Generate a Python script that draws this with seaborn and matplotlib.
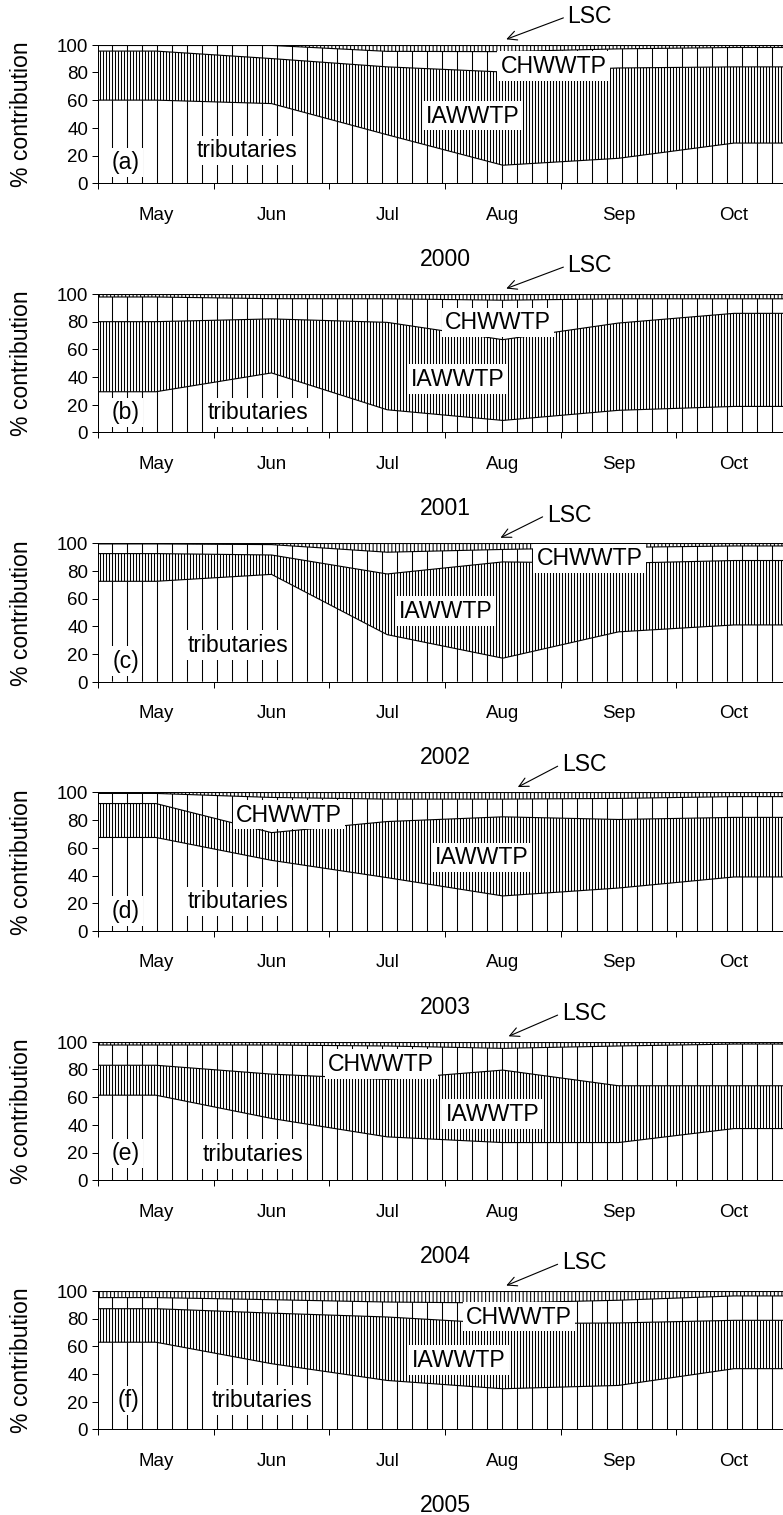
import numpy as np
import pandas as pd
import matplotlib
matplotlib.use("Agg")
import matplotlib.pyplot as plt
import seaborn as sns

# ---- data -------------------------------------------------------------
months = ["May", "Jun", "Jul", "Aug", "Sep", "Oct"]
years = ["2000", "2001", "2002", "2003", "2004", "2005"]
panel_tags = ["(a)", "(b)", "(c)", "(d)", "(e)", "(f)"]
sources = ["tributaries", "IAWWTP", "CHWWTP", "LSC"]

# monthly % contribution of each source, one row per year
tributaries = [
    [60.0, 57.5, 35.0, 13.0, 18.0, 29.0],
    [29.4, 43.0, 16.4, 8.7, 16.0, 18.8],
    [72.5, 77.5, 34.0, 17.0, 36.0, 41.0],
    [67.5, 51.0, 38.5, 25.3, 31.0, 39.0],
    [61.4, 44.6, 31.3, 27.2, 27.2, 37.3],
    [63.0, 47.5, 35.4, 29.4, 31.8, 43.9],
]
iawwtp = [
    [35.4, 32.5, 49.0, 67.3, 65.2, 55.0],
    [50.6, 39.0, 63.1, 58.3, 63.0, 67.2],
    [20.0, 14.0, 43.8, 69.5, 49.5, 46.5],
    [24.5, 20.0, 40.5, 57.1, 49.5, 43.0],
    [21.6, 32.0, 41.5, 52.3, 41.0, 30.9],
    [24.2, 36.5, 45.8, 47.0, 45.1, 34.9],
]
chwwtp = [
    [4.1, 9.5, 11.2, 14.7, 13.8, 14.0],
    [17.8, 14.6, 17.0, 28.5, 17.5, 10.5],
    [7.0, 7.5, 15.7, 9.0, 11.5, 10.5],
    [7.3, 25.4, 16.2, 12.8, 15.2, 15.0],
    [14.6, 21.0, 24.1, 15.7, 28.7, 30.1],
    [8.0, 9.7, 10.8, 14.9, 16.4, 17.6],
]
lsc = [
    [0.5, 0.5, 4.8, 5.0, 3.0, 2.0],
    [2.2, 3.4, 3.5, 4.5, 3.5, 3.5],
    [0.5, 1.0, 6.5, 4.5, 3.0, 2.0],
    [0.7, 3.6, 4.8, 4.8, 4.3, 3.0],
    [2.4, 2.4, 3.1, 4.8, 3.1, 1.7],
    [4.8, 6.3, 8.0, 8.7, 6.7, 3.6],
]

# ---- label placement (x in months from 1 May, y in %) --------------------
tag_pos = [(0.24, 15), (0.24, 14.6), (0.24, 15), (0.24, 14.5), (0.24, 19.3), (0.26, 21)]
trib_pos = [(1.29, 23.5), (1.38, 14.6), (1.21, 26.6), (1.21, 21.2), (1.34, 18.8), (1.42, 21.4)]
ia_pos = [(3.24, 48.7), (3.11, 38.6), (3.01, 51), (3.32, 53), (3.41, 47.7), (3.12, 50.3)]
ch_pos = [(3.94, 84.7), (3.46, 79.4), (4.25, 89), (1.65, 83.9), (2.45, 83.9), (3.64, 81.4)]
lsc_text_x = [4.06, 4.06, 3.88, 4.01, 4.01, 4.01]
lsc_tip_x = [3.53, 3.53, 3.48, 3.63, 3.55, 3.53]

DPI = 90
sns.set_style("ticks")
plt.rcParams["font.family"] = ["Liberation Sans", "DejaVu Sans"]
plt.rcParams["hatch.linewidth"] = 0.85
plt.rcParams["hatch.color"] = "black"
plt.rcParams["axes.linewidth"] = 0.8
for key in ["text.color", "axes.labelcolor", "xtick.color", "ytick.color",
            "axes.edgecolor"]:
    plt.rcParams[key] = "black"

W, H = 783, 1515
fig = plt.figure(figsize=(783.3 / DPI, 1515.3 / DPI), dpi=DPI)

hatches = ["|", "|||||", "|", "||||"]
month_w = 115.6
left_px = 98
ax_h = 138.5
tick_fs = 15
label_fs = 18.4

x_mid = np.arange(len(months)) + 0.5
x = np.r_[0.0, x_mid, float(len(months))]

for i in range(6):
    top_px = 45 + 249.2 * i
    ax = fig.add_axes([left_px / W, 1 - (top_px + ax_h) / H,
                       len(months) * month_w / W, ax_h / H])

    vals = np.array([tributaries[i], iawwtp[i], chwwtp[i], lsc[i]])
    vals = np.concatenate([vals[:, :1], vals, vals[:, -1:]], axis=1)
    tops = np.cumsum(vals, axis=0)
    lows = np.vstack([np.zeros(len(x)), tops[:-1]])

    for k, hatch in enumerate(hatches):
        ax.fill_between(x, lows[k], tops[k], facecolor="white",
                        edgecolor="black", hatch=hatch, linewidth=0, zorder=1)

    df = pd.DataFrame({
        "pos": np.tile(x, len(sources)),
        "top": tops.ravel(),
        "layer": np.repeat(sources, len(x)),
    })
    sns.lineplot(data=df, x="pos", y="top", hue="layer",
                 palette=["black"] * len(sources), legend=False, ax=ax,
                 linewidth=0.9, estimator=None, sort=False, zorder=2)

    ax.set_xlim(0, len(months))
    ax.set_ylim(0, 100)
    ax.set_xlabel("")
    ax.set_ylabel("")
    sns.despine(ax=ax, top=True, right=True)

    ax.set_xticks(np.arange(len(months) + 1))
    ax.set_xticklabels([])
    ax.set_xticks(x_mid, minor=True)
    ax.set_xticklabels(months, minor=True, fontsize=tick_fs)
    ax.tick_params(axis="x", which="major", direction="out", length=4.8,
                   width=0.8, color="black")
    ax.tick_params(axis="x", which="minor", length=0, pad=18.4)
    ax.set_yticks(np.arange(0, 101, 20))
    ax.tick_params(axis="y", direction="out", length=4.8, width=0.8,
                   pad=3.2, labelsize=tick_fs, color="black")

    box = dict(facecolor="white", edgecolor="none", pad=2.5)
    ax.text(*tag_pos[i], panel_tags[i], fontsize=label_fs, ha="center",
            va="center", bbox=box, zorder=5)
    ax.text(*trib_pos[i], "tributaries", fontsize=label_fs, ha="center",
            va="center", bbox=box, zorder=5)
    ax.text(*ia_pos[i], "IAWWTP", fontsize=label_fs, ha="center",
            va="center", bbox=box, zorder=5)
    ax.text(*ch_pos[i], "CHWWTP", fontsize=label_fs, ha="center",
            va="center", bbox=box, zorder=5)
    ax.annotate("LSC", xy=(lsc_tip_x[i], 103.9), xytext=(lsc_text_x[i], 120.5),
                fontsize=label_fs, ha="left", va="center",
                annotation_clip=False,
                arrowprops=dict(arrowstyle="->", lw=0.9, color="black",
                                shrinkA=1, shrinkB=0, relpos=(0, 0.5)))

    ax.text(3.0, -0.548, years[i], transform=ax.get_xaxis_transform(),
            fontsize=label_fs, ha="center", va="center")
    ax.text(-0.1096, 0.5, "% contribution", transform=ax.transAxes,
            fontsize=label_fs, rotation=90, ha="center", va="center")

fig.savefig("out.png", dpi=DPI)
